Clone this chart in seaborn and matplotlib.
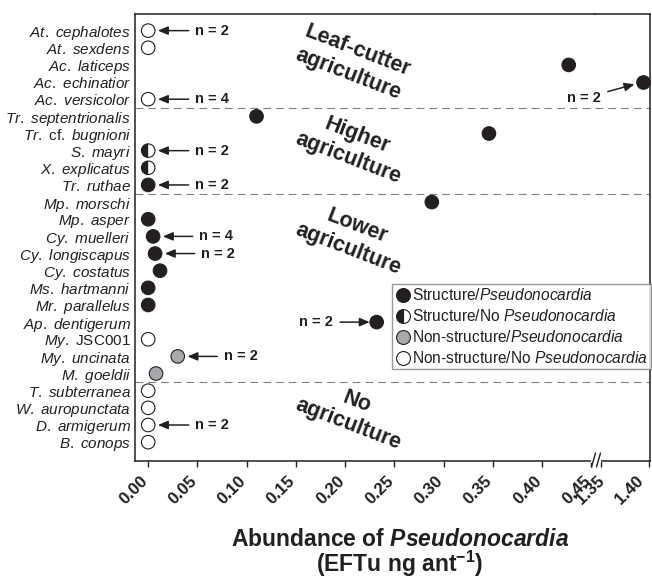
import matplotlib
matplotlib.use("Agg")
import matplotlib.pyplot as plt
from matplotlib.lines import Line2D
from matplotlib.markers import MarkerStyle
from matplotlib.transforms import ScaledTranslation
import numpy as np
import pandas as pd
import seaborn as sns

# data
species = [
    "At. cephalotes", "At. sexdens", "Ac. laticeps", "Ac. echinatior", "Ac. versicolor",
    "Tr. septentrionalis", "Tr. cf. bugnioni", "S. mayri", "X. explicatus", "Tr. ruthae",
    "Mp. morschi", "Mp. asper", "Cy. muelleri", "Cy. longiscapus", "Cy. costatus",
    "Ms. hartmanni", "Mr. parallelus", "Ap. dentigerum", "My. JSC001", "My. uncinata",
    "M. goeldii", "T. subterranea", "W. auropunctata", "D. armigerum", "B. conops",
]
abundance = [
    0.0, 0.0, 0.427, 1.393, 0.0,
    0.110, 0.346, 0.0, 0.0, 0.0,
    0.288, 0.0, 0.005, 0.007, 0.012,
    0.0, 0.0, 0.232, 0.0, 0.030,
    0.008, 0.0, 0.0, 0.0, 0.0,
]
S_P, S_N, N_P, N_N = ("Structure/Pseudonocardia", "Structure/No Pseudonocardia",
                      "Non-structure/Pseudonocardia", "Non-structure/No Pseudonocardia")
status = [
    N_N, N_N, S_P, S_P, N_N,
    S_P, S_P, S_N, S_N, S_P,
    S_P, S_P, S_P, S_P, S_P,
    S_P, S_P, S_P, N_N, N_P,
    N_P, N_N, N_N, N_N, N_N,
]
group_names = ["Leaf-cutter\nagriculture", "Higher\nagriculture",
               "Lower\nagriculture", "No\nagriculture"]
group_sizes = [5, 5, 11, 4]
note_species = ["At. cephalotes", "Ac. versicolor", "S. mayri", "Tr. ruthae", "Cy. muelleri",
                "Cy. longiscapus", "My. uncinata", "D. armigerum", "Ap. dentigerum",
                "Ac. echinatior"]
note_text = ["n = 2", "n = 4", "n = 2", "n = 2", "n = 4", "n = 2", "n = 2", "n = 2", "n = 2",
             "n = 2"]
left_ticks = [0.00, 0.05, 0.10, 0.15, 0.20, 0.25, 0.30, 0.35, 0.40, 0.45]
right_ticks = [1.35, 1.40]

DARK = "#231f20"
GRAY = "#a7a9ac"
W, H = 652, 580

sns.set_style("white")
plt.rcParams["font.family"] = ["Liberation Sans", "DejaVu Sans"]
plt.rcParams["mathtext.fontset"] = "custom"
plt.rcParams["mathtext.rm"] = "Liberation Sans"
plt.rcParams["mathtext.it"] = "Liberation Sans:italic"
plt.rcParams["mathtext.bf"] = "Liberation Sans:bold"
plt.rcParams["mathtext.bfit"] = "Liberation Sans:italic:bold"


def italic_label(name):
    parts = []
    for word in name.split(" "):
        if word in ("cf.", "JSC001"):
            parts.append(r"\mathrm{%s}" % word)
        else:
            parts.append(r"\mathit{%s}" % word)
    return "$" + r"\ ".join(parts) + "$"


def px_box(x0, x1, y0, y1):
    return [x0 / W, 1 - y1 / H, (x1 - x0) / W, (y1 - y0) / H]


df = pd.DataFrame({"species": species, "abundance": abundance, "status": status})
df["row"] = np.arange(len(df))
palette = {S_P: DARK, S_N: "white", N_P: GRAY, N_N: "white"}

fig = plt.figure(figsize=(W / 100, H / 100), dpi=100)
ax = fig.add_axes(px_box(135, 595, 14, 461))
ax_r = fig.add_axes(px_box(595, 650, 14, 461), sharey=ax)

for a, part in ((ax, df[df.abundance < 1]), (ax_r, df[df.abundance >= 1])):
    sns.scatterplot(data=part, x="abundance", y="row", hue="status", palette=palette,
                    s=95, edgecolor=DARK, linewidth=0.8, legend=False, ax=a,
                    zorder=3, clip_on=False)
    half = part[part.status == S_N]
    if len(half):
        sns.scatterplot(data=half, x="abundance", y="row", color=DARK,
                        marker=MarkerStyle("o", fillstyle="left"), s=95,
                        edgecolor="none", linewidth=0, legend=False, ax=a, zorder=4)
    a.set_xlabel("")
    a.set_ylabel("")

ax.set_xlim(-0.0134, 0.4537)
ax_r.set_xlim(1.3438, 1.4007)
ax.set_ylim(25.1, -0.97)

# group separators and labels
bounds = np.cumsum(group_sizes)[:-1] - 0.5
for b in bounds:
    for a in (ax, ax_r):
        a.axhline(b, color="#808080", lw=0.8, ls=(0, (7, 4.5)), zorder=1)
group_label_rows = [1.85, 6.8, 12.05, 22.3]
for name, yr in zip(group_names, group_label_rows):
    ax.text(0.208, yr, name, rotation=-21, rotation_mode="anchor", ha="center",
            va="center", multialignment="center", fontsize=15.5, fontweight="bold",
            color=DARK, linespacing=1.22)

# n = ... annotations
arrow = dict(arrowstyle="-|>,head_length=0.57,head_width=0.24", color=DARK, lw=1.1,
             shrinkA=2.5, shrinkB=7)
note_x = {"Cy. muelleri": 0.052, "Cy. longiscapus": 0.054, "My. uncinata": 0.077}
for sp, txt in zip(note_species, note_text):
    r = df[df.species == sp].iloc[0]
    if sp == "Ac. echinatior":
        ax_r.annotate(txt, xy=(r.abundance, r.row), xytext=(-42, -11.5),
                      textcoords="offset points", ha="center", va="center",
                      fontsize=10.5, fontweight="bold", color=DARK,
                      arrowprops=dict(arrow, shrinkB=6), annotation_clip=False)
    elif sp == "Ap. dentigerum":
        ax.annotate(txt, xy=(r.abundance, r.row), xytext=(0.188, r.row), ha="right",
                    va="center", fontsize=10.5, fontweight="bold", color=DARK,
                    arrowprops=dict(arrow, shrinkB=5))
    else:
        ax.annotate(txt, xy=(r.abundance, r.row), xytext=(note_x.get(sp, 0.048), r.row),
                    ha="left", va="center", fontsize=10.5, fontweight="bold", color=DARK,
                    arrowprops=arrow)

# axes styling
ax.set_xticks(left_ticks)
ax.set_xticklabels([f"{t:.2f}" for t in left_ticks])
ax_r.set_xticks(right_ticks)
ax_r.set_xticklabels([f"{t:.2f}" for t in right_ticks])
ax.set_yticks(df.row)
ax.set_yticklabels([italic_label(s) for s in species], fontsize=11, color=DARK)
ax.tick_params(axis="y", length=0, pad=3)
ax_r.tick_params(axis="y", left=False, labelleft=False)
# per-label horizontal nudges (px): keeps 0.45/1.35 apart and 1.40 inside the figure
label_shift = {ax: [-3] * len(left_ticks), ax_r: [1, -8]}
for a in (ax, ax_r):
    a.tick_params(axis="x", direction="out", length=4, width=1, color=DARK,
                  labelcolor=DARK, pad=9, bottom=True)
    for lab, dx in zip(a.xaxis.get_majorticklabels(), label_shift[a]):
        lab.set_rotation(45)
        lab.set_ha("right")
        lab.set_va("center")
        lab.set_rotation_mode("anchor")
        lab.set_fontweight("bold")
        lab.set_fontsize(12.2)
        lab.set_transform(lab.get_transform()
                          + ScaledTranslation(dx / 100, 0, fig.dpi_scale_trans))
    for sp in a.spines.values():
        sp.set_color(DARK)
        sp.set_linewidth(1.1)
ax.spines["right"].set_visible(False)
ax_r.spines["left"].set_visible(False)

# axis break on the bottom spine
fig.add_artist(Line2D([592 / W, 599 / W], [1 - 461 / H, 1 - 461 / H],
                      transform=fig.transFigure, color="white", lw=2.5))
for x0 in (591.5, 596.5):
    fig.add_artist(Line2D([x0 / W, (x0 + 4) / W], [1 - 467 / H, 1 - 453 / H],
                          transform=fig.transFigure, color=DARK, lw=1))

# legend
handles = [
    Line2D([], [], ls="", marker="o", ms=10, mfc=DARK, mec=DARK, mew=0.8),
    Line2D([], [], ls="", marker="o", ms=10, mfc=DARK, mfcalt="white", fillstyle="left",
           mec=DARK, mew=0.8),
    Line2D([], [], ls="", marker="o", ms=10, mfc=GRAY, mec=DARK, mew=0.8),
    Line2D([], [], ls="", marker="o", ms=10, mfc="white", mec=DARK, mew=0.8),
]
labels = [r"Structure/$\mathit{Pseudonocardia}$", r"Structure/No $\mathit{Pseudonocardia}$",
          r"Non-structure/$\mathit{Pseudonocardia}$",
          r"Non-structure/No $\mathit{Pseudonocardia}$"]
leg = fig.legend(handles, labels, loc="upper left", bbox_to_anchor=(392 / W, 1 - 284 / H),
                 frameon=True, fancybox=False, edgecolor="#808080", fontsize=11.2,
                 handletextpad=0.1, borderpad=0.2, labelspacing=0.32, handlelength=1.0,
                 borderaxespad=0)
leg.get_frame().set_linewidth(1.0)
for t in leg.get_texts():
    t.set_color(DARK)

# x axis title
fig.text(400 / W, 1 - 546 / H, r"$\mathbf{Abundance\ of\ }\mathbfit{Pseudonocardia}$",
         ha="center", va="baseline", fontsize=16.5, color=DARK)
fig.text(400 / W, 1 - 572 / H, r"$\mathbf{(EFTu\ ng\ ant}^{\mathbf{-1}}\mathbf{)}$",
         ha="center", va="baseline", fontsize=16.5, color=DARK)

fig.savefig("out.png", dpi=100)
